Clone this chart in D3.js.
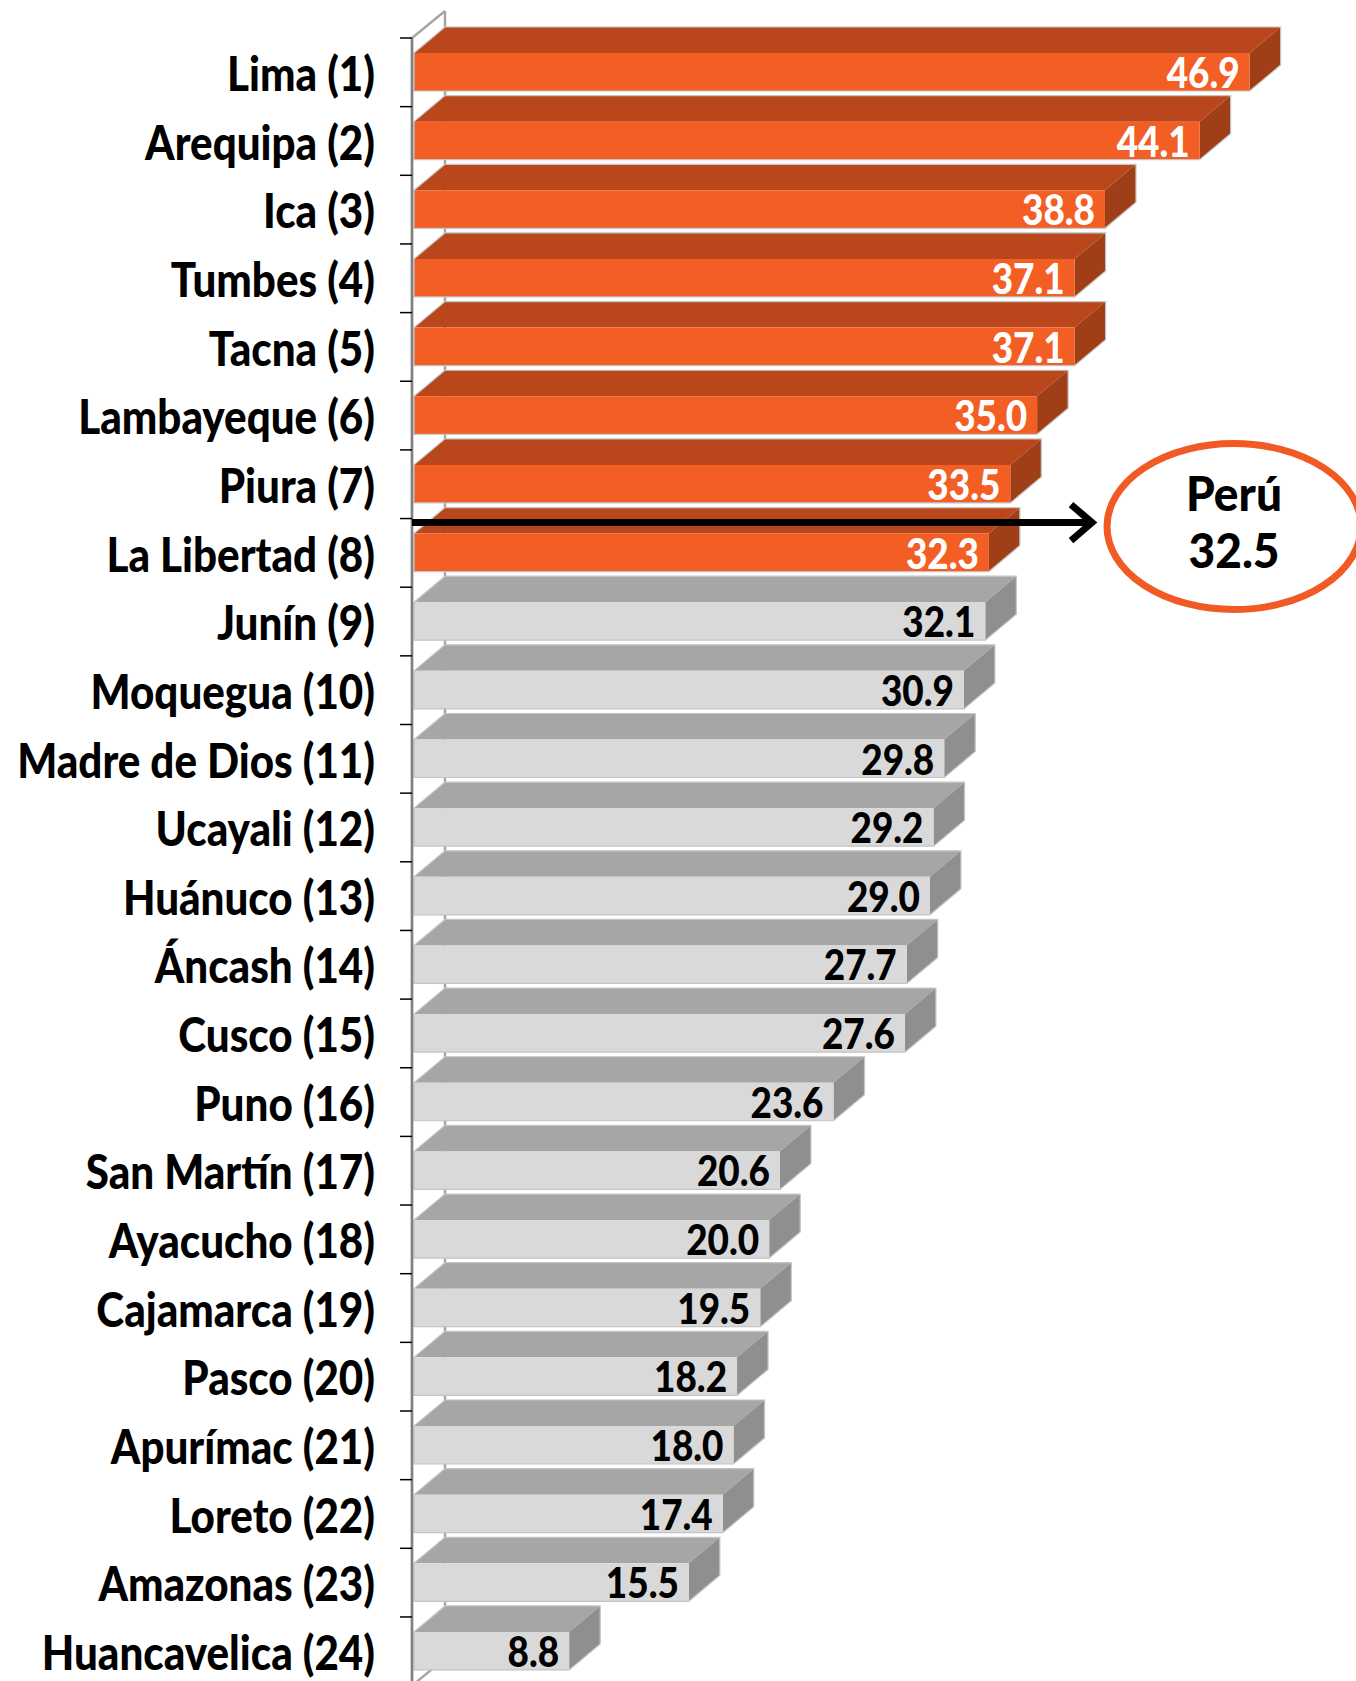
<!DOCTYPE html>
<html lang="es">
<head>
<meta charset="UTF-8">
<title>Regiones - barras 3D</title>
<script src="https://d3js.org/d3.v7.min.js"></script>
<style>
    body { margin: 0; padding: 0; background: #fff; }
    svg { display: block; font-family: 'Lato', 'Open Sans', sans-serif; font-weight: 900; }
</style>
</head>
<body>
<div id="chart"></div>
<script>
    // data
    const regions = [
        'Lima (1)', 'Arequipa (2)', 'Ica (3)', 'Tumbes (4)', 'Tacna (5)', 'Lambayeque (6)',
        'Piura (7)', 'La Libertad (8)', 'Junín (9)', 'Moquegua (10)', 'Madre de Dios (11)',
        'Ucayali (12)', 'Huánuco (13)', 'Áncash (14)', 'Cusco (15)', 'Puno (16)',
        'San Martín (17)', 'Ayacucho (18)', 'Cajamarca (19)', 'Pasco (20)', 'Apurímac (21)',
        'Loreto (22)', 'Amazonas (23)', 'Huancavelica (24)'
    ];
    const values = [46.9, 44.1, 38.8, 37.1, 37.1, 35.0, 33.5, 32.3, 32.1, 30.9, 29.8, 29.2,
        29.0, 27.7, 27.6, 23.6, 20.6, 20.0, 19.5, 18.2, 18.0, 17.4, 15.5, 8.8];
    const nationalLabel = 'Perú';
    const nationalValue = 32.5;
    const aboveCount = 8; // regions drawn in orange

    const width = 1356, height = 1681;
    const depthX = 31, depthY = 26;   // 3d offset of the bars
    const faceTop = 15, faceH = 38;   // front face inside each band

    const colors = {
        orange: { front: '#f25e24', top: '#b9471b', side: '#a03f17', text: '#fff' },
        gray: { front: '#d9d9d9', top: '#a6a6a6', side: '#8f8f8f', text: '#000' }
    };

    const data = regions.map((r, i) => ({ region: r, value: values[i], above: i < aboveCount }));

    const x = d3.scaleLinear().domain([0, 50]).range([412, 1305]);
    const y = d3.scaleBand().domain(regions).range([38, 38 + regions.length * 68.65]).padding(0);

    const svg = d3.select('#chart').append('svg')
        .attr('width', width)
        .attr('height', height);

    const x0 = x(0);
    const yEnd = y.range()[1];

    // back wall
    const wall = svg.append('g').attr('stroke', '#a6a6a6').attr('stroke-width', 2.5).attr('fill', 'none');
    wall.append('line').attr('x1', x0).attr('y1', y.range()[0]).attr('x2', x0 + depthX + 2).attr('y2', y.range()[0] - depthY - 1);
    wall.append('line').attr('x1', x0 + depthX + 2).attr('y1', y.range()[0] - depthY - 1).attr('x2', x0 + depthX + 2).attr('y2', yEnd - depthY);
    wall.append('line').attr('x1', x0).attr('y1', yEnd).attr('x2', x0 + depthX + 2).attr('y2', yEnd - depthY - 1);

    // bars
    const bars = svg.append('g').selectAll('g')
        .data(data)
        .join('g');

    bars.each(function (d) {
        const g = d3.select(this);
        const c = d.above ? colors.orange : colors.gray;
        const ft = y(d.region) + faceTop;
        const fb = ft + faceH;
        const xl = x0 + 2;
        const xe = x(d.value);
        // top face
        g.append('polygon')
            .attr('points', [[xl, ft], [xl + depthX, ft - depthY], [xe + depthX, ft - depthY], [xe, ft]].join(' '))
            .attr('fill', c.top);
        // side face
        g.append('polygon')
            .attr('points', [[xe, ft], [xe + depthX, ft - depthY], [xe + depthX, fb - depthY], [xe, fb]].join(' '))
            .attr('fill', c.side);
        // front face
        g.append('rect')
            .attr('x', xl).attr('y', ft)
            .attr('width', xe - xl).attr('height', faceH)
            .attr('fill', c.front);
        // thin outline
        g.append('polygon')
            .attr('points', [[xl, ft], [xl + depthX, ft - depthY], [xe + depthX, ft - depthY], [xe + depthX, fb - depthY], [xe, fb], [xl, fb]].join(' '))
            .attr('fill', 'none')
            .attr('stroke', '#c4c4c4')
            .attr('stroke-width', 1.2);
    });

    // value labels
    const valueLabels = bars.append('text')
        .attr('text-anchor', 'end')
        .attr('font-size', 42)
        .attr('fill', d => d.above ? colors.orange.text : colors.gray.text)
        .attr('x', 0).attr('y', 0)
        .text(d => d.value.toFixed(1));

    // category axis
    svg.append('line')
        .attr('x1', x0).attr('x2', x0)
        .attr('y1', y.range()[0]).attr('y2', yEnd)
        .attr('stroke', '#808080').attr('stroke-width', 2.7);

    svg.append('g').selectAll('line')
        .data(d3.range(regions.length + 1))
        .join('line')
        .attr('x1', x0 - 12).attr('x2', x0)
        .attr('y1', i => y.range()[0] + i * y.step())
        .attr('y2', i => y.range()[0] + i * y.step())
        .attr('stroke', '#000').attr('stroke-width', 1.5);

    const catLabels = svg.append('g').selectAll('text')
        .data(data)
        .join('text')
        .attr('text-anchor', 'end')
        .attr('font-size', 47)
        .attr('fill', '#000')
        .text(d => d.region);

    // squeeze text horizontally to the reference widths
    const sample = catLabels.filter(d => d.region === 'Madre de Dios (11)').node();
    const catScale = 358 / sample.getComputedTextLength();
    catLabels.attr('transform', d => `translate(375,${y(d.region) + 53}) scale(${catScale},1)`);

    const firstVal = valueLabels.filter(d => d.value === values[0]).node();
    const valScale = 73 / firstVal.getComputedTextLength();
    valueLabels.attr('transform', d =>
        `translate(${x(d.value) - 10},${y(d.region) + faceTop + faceH - 3}) scale(${valScale},1)`);

    // national average arrow
    const arrowY = y(regions[aboveCount - 1]) + 4;
    const tipX = 1092;
    svg.append('line')
        .attr('x1', x0).attr('x2', tipX - 3)
        .attr('y1', arrowY).attr('y2', arrowY)
        .attr('stroke', '#000').attr('stroke-width', 7);
    svg.append('polyline')
        .attr('points', [[tipX - 21, arrowY - 18], [tipX, arrowY], [tipX - 21, arrowY + 18]].join(' '))
        .attr('fill', 'none')
        .attr('stroke', '#000').attr('stroke-width', 7)
        .attr('stroke-linejoin', 'miter');

    const cx = 1234, cy = arrowY + 4;
    svg.append('ellipse')
        .attr('cx', cx).attr('cy', cy)
        .attr('rx', 127).attr('ry', 83)
        .attr('fill', '#fff')
        .attr('stroke', '#f15a24').attr('stroke-width', 7);

    const peru = svg.append('g').selectAll('text')
        .data([nationalLabel, nationalValue.toFixed(1)])
        .join('text')
        .attr('text-anchor', 'middle')
        .attr('font-size', 47)
        .attr('fill', '#000')
        .text(d => d);
    const peruScale = 96 / peru.node().getComputedTextLength();
    peru.attr('transform', (d, i) => `translate(${cx},${cy - 16 + i * 57}) scale(${peruScale},1)`);
</script>
</body>
</html>
